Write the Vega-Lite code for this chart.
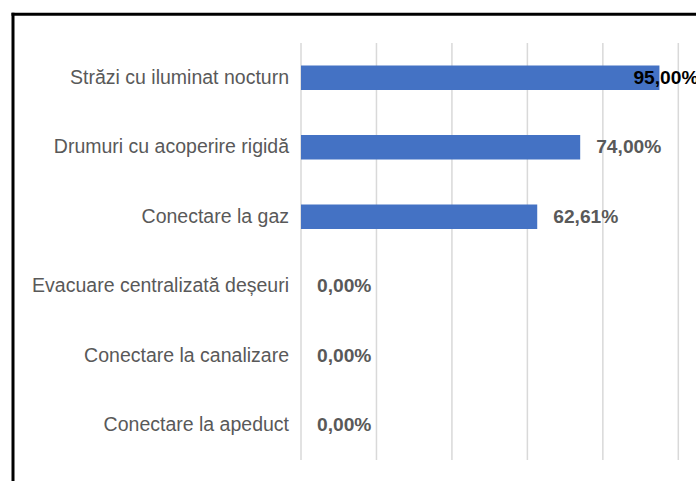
{
  "$schema": "https://vega.github.io/schema/vega-lite/v6.json",
  "autosize": {"type": "none"},
  "padding": {"left": 12.5, "top": 13.8, "right": 0, "bottom": 0},
  "width": 683.5,
  "height": 467.2,
  "background": "white",
  "config": {
    "view": {"stroke": null},
    "locale": {"number": {"decimal": ",", "thousands": ".", "grouping": [3], "currency": ["", " lei"]}},
    "text": {"font": "Liberation Sans, Arial, sans-serif"}
  },
  "datasets": {
    "main": [
      {"cat": "Străzi cu iluminat nocturn", "v": 0.95},
      {"cat": "Drumuri cu acoperire rigidă", "v": 0.74},
      {"cat": "Conectare la gaz", "v": 0.6261},
      {"cat": "Evacuare centralizată deșeuri", "v": 0},
      {"cat": "Conectare la canalizare", "v": 0},
      {"cat": "Conectare la apeduct", "v": 0}
    ],
    "grid": [{"g": 0}, {"g": 0.2}, {"g": 0.4}, {"g": 0.6}, {"g": 0.8}, {"g": 1}]
  },
  "layer": [
    {
      "data": {"name": "grid"},
      "mark": {"type": "rule", "color": "#d9d9d9", "strokeWidth": 1.5},
      "encoding": {
        "x": {"field": "g", "type": "quantitative"},
        "y": {"datum": "Străzi cu iluminat nocturn", "type": "nominal", "bandPosition": 0},
        "y2": {"datum": "Conectare la apeduct", "bandPosition": 1}
      }
    },
    {
      "data": {"name": "main"},
      "mark": {"type": "bar", "color": "#4472C4", "height": {"band": 0.355}},
      "encoding": {
        "y": {
          "field": "cat", "type": "nominal", "sort": null,
          "scale": {
            "domain": ["Străzi cu iluminat nocturn", "Drumuri cu acoperire rigidă", "Conectare la gaz", "Evacuare centralizată deșeuri", "Conectare la canalizare", "Conectare la apeduct"],
            "paddingInner": 0, "paddingOuter": 0.361, "align": 0.582
          },
          "axis": {"orient": "left", "labels": false, "ticks": false, "grid": false, "title": null, "domainColor": "black", "domainWidth": 3, "domainCap": "square"}
        },
        "x": {
          "field": "v", "type": "quantitative",
          "scale": {"domain": [-0.76464, 1.04691], "nice": false, "zero": false},
          "axis": {"orient": "top", "labels": false, "ticks": false, "grid": false, "title": null, "domainColor": "black", "domainWidth": 3, "domainCap": "square"}
        },
        "x2": {"datum": 0}
      }
    },
    {
      "data": {"name": "main"},
      "mark": {"type": "text", "align": "right", "baseline": "middle", "dx": -12, "fontSize": 19.5, "color": "#595959"},
      "encoding": {
        "y": {"field": "cat", "type": "nominal", "sort": null},
        "x": {"datum": 0, "type": "quantitative"},
        "text": {"field": "cat"}
      }
    },
    {
      "data": {"name": "main"},
      "transform": [{"filter": "datum.v < 0.9"}],
      "mark": {"type": "text", "align": "left", "baseline": "middle", "dx": 16, "fontSize": 19.2, "fontWeight": "bold", "color": "#595959"},
      "encoding": {
        "y": {"field": "cat", "type": "nominal", "sort": null},
        "x": {"field": "v", "type": "quantitative"},
        "text": {"field": "v", "type": "quantitative", "format": ".2%"}
      }
    },
    {
      "data": {"name": "main"},
      "transform": [{"filter": "datum.v >= 0.9"}],
      "mark": {"type": "text", "align": "left", "baseline": "middle", "dx": -26, "fontSize": 19.2, "fontWeight": "bold", "color": "#000000"},
      "encoding": {
        "y": {"field": "cat", "type": "nominal", "sort": null},
        "x": {"field": "v", "type": "quantitative"},
        "text": {"field": "v", "type": "quantitative", "format": ".2%"}
      }
    }
  ]
}
